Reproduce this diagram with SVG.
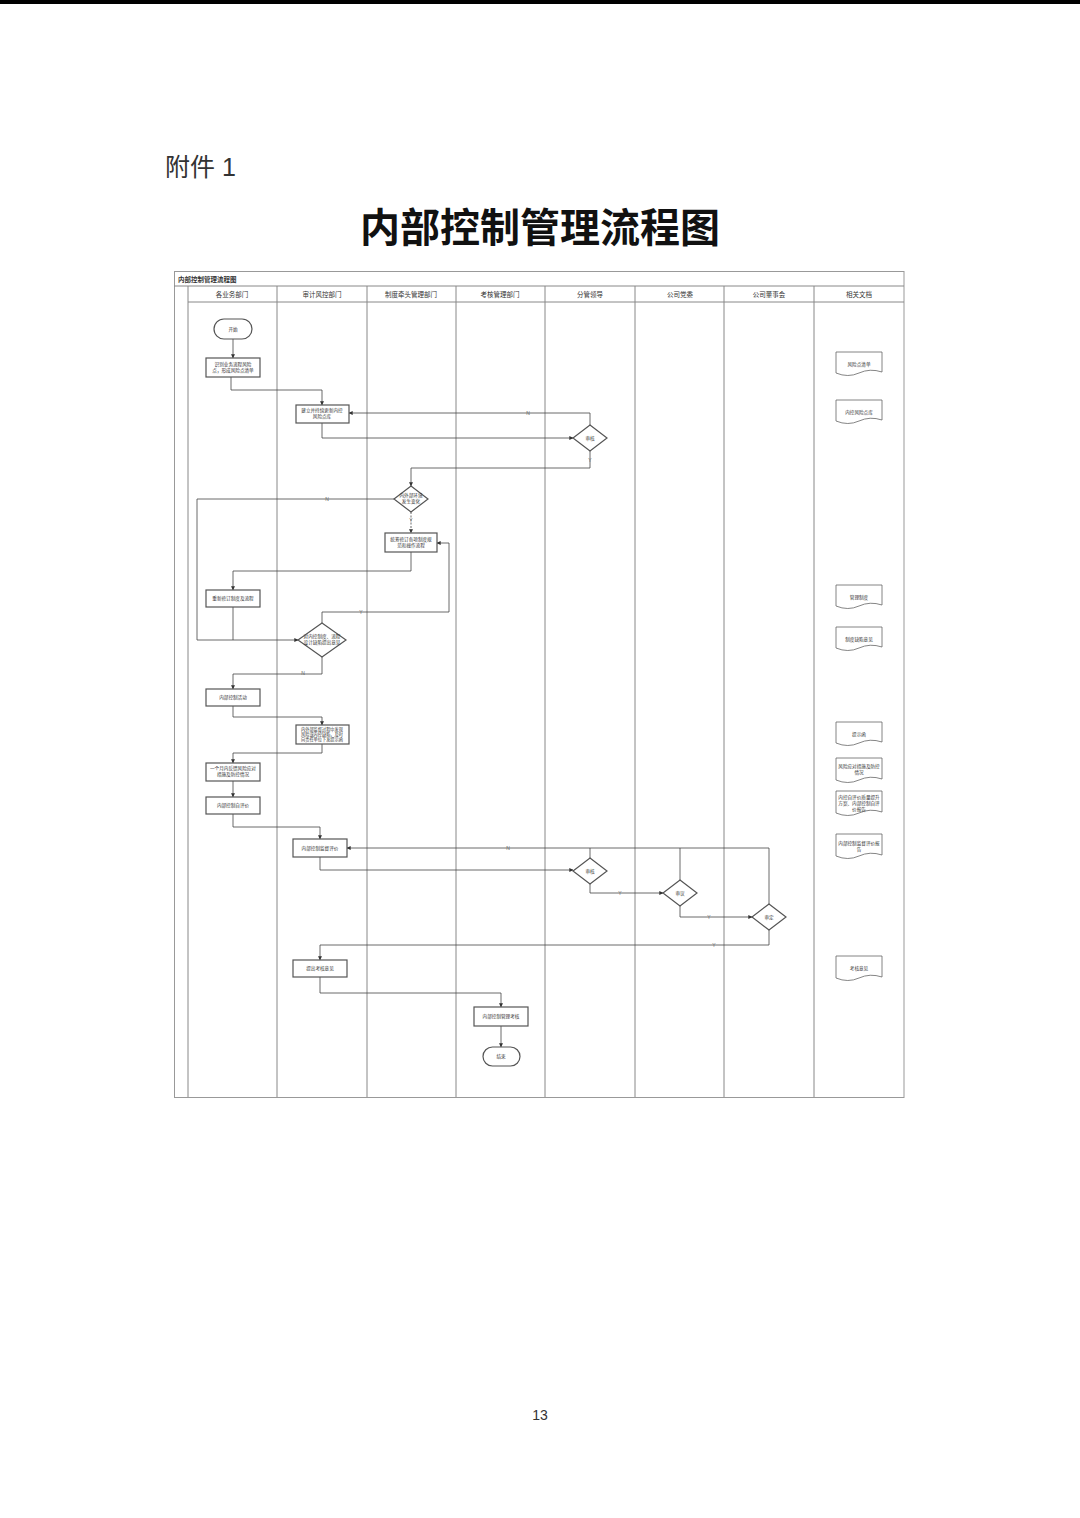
<svg xmlns="http://www.w3.org/2000/svg" width="1080" height="1518" viewBox="0 0 1080 1518">
<style>
.t{font-family:"Liberation Sans","Noto Sans CJK SC",sans-serif;fill:#333}
.n{fill:#fff;stroke:#555;stroke-width:1.2}
.d{fill:#fff;stroke:#666;stroke-width:0.8}
.s{font-size:4.6px}
.lane{stroke:#888;stroke-width:1;fill:none}
.c{fill:none;stroke:#444;stroke-width:0.8}
.lb{font-size:5px;fill:#666}
</style>
<defs>
<marker id="a" viewBox="0 0 6 6" refX="5.5" refY="3" markerWidth="5" markerHeight="5" orient="auto"><path d="M0,0L6,3L0,6z" fill="#333"/></marker>
</defs>
<rect x="0" y="0" width="1080" height="4" fill="#000"/>
<text class="t" x="165" y="176" font-size="25" fill="#111">附件 1</text>
<text x="540" y="242" font-size="40" font-weight="bold" text-anchor="middle" font-family="'Noto Sans CJK SC',serif" fill="#111">内部控制管理流程图</text>
<text class="t" x="540" y="1420" font-size="14" text-anchor="middle">13</text>
<g id="frame">
<rect x="174.5" y="271.5" width="729.5" height="826" fill="#fff" stroke="#999"/>
<line class="lane" x1="174" y1="286" x2="904" y2="286"/>
<line class="lane" x1="188" y1="302" x2="904" y2="302"/>
<text class="t" x="178" y="282" font-size="6.5" font-weight="bold">内部控制管理流程图</text>
<g class="lane">
<line x1="188" y1="286" x2="188" y2="1097"/><line x1="277" y1="286" x2="277" y2="1097"/><line x1="367" y1="286" x2="367" y2="1097"/><line x1="456" y1="286" x2="456" y2="1097"/><line x1="545" y1="286" x2="545" y2="1097"/><line x1="635" y1="286" x2="635" y2="1097"/><line x1="724" y1="286" x2="724" y2="1097"/><line x1="814" y1="286" x2="814" y2="1097"/>
</g>
<g class="t" font-size="6.5" text-anchor="middle">
<text x="232" y="297">各业务部门</text><text x="322" y="297">审计风控部门</text><text x="411" y="297">制度牵头管理部门</text><text x="500" y="297">考核管理部门</text><text x="590" y="297">分管领导</text><text x="680" y="297">公司党委</text><text x="769" y="297">公司董事会</text><text x="859" y="297">相关文档</text>
</g>
</g>
<g id="connectors">
<path class="c" d="M233,339V358" marker-end="url(#a)"/>
<path class="c" d="M231,377V390H322V405" marker-end="url(#a)"/>
<path class="c" d="M322,423V438H573" marker-end="url(#a)"/>
<path class="c" d="M590,425V413H349" marker-end="url(#a)"/>
<path class="c" d="M590,451V468H411V486" marker-end="url(#a)"/>
<path class="c" d="M394,499H197V640H298" marker-end="url(#a)"/>
<path class="c" d="M411,512V533" stroke-dasharray="2,1.5" marker-end="url(#a)"/>
<path class="c" d="M411,552V571H233V590" marker-end="url(#a)"/>
<path class="c" d="M233,607V640"/>
<path class="c" d="M322,623V612H449V543H437" marker-end="url(#a)"/>
<path class="c" d="M322,657V674H233V689" marker-end="url(#a)"/>
<path class="c" d="M233,706V717H322V725" marker-end="url(#a)"/>
<path class="c" d="M322,744V753H233V763" marker-end="url(#a)"/>
<path class="c" d="M233,781V797" marker-end="url(#a)"/>
<path class="c" d="M233,814V827H320V839" marker-end="url(#a)"/>
<path class="c" d="M320,857V870H573" marker-end="url(#a)"/>
<path class="c" d="M590,858V848M680,880V848M769,904V848H347" marker-end="url(#a)"/>
<path class="c" d="M590,884V893H663" marker-end="url(#a)"/>
<path class="c" d="M680,906V917H752" marker-end="url(#a)"/>
<path class="c" d="M769,930V945H320V960" marker-end="url(#a)"/>
<path class="c" d="M320,977V993H501V1007" marker-end="url(#a)"/>
<path class="c" d="M501,1026V1047" marker-end="url(#a)"/>
<g class="t lb" text-anchor="middle">
<text x="528" y="415">N</text><text x="590" y="462">Y</text><text x="327" y="501">N</text><text x="411" y="522">Y</text><text x="361" y="614">Y</text><text x="303" y="675">N</text><text x="508" y="850">N</text><text x="620" y="895">Y</text><text x="709" y="919">Y</text><text x="714" y="947">Y</text>
</g>
</g>
<g class="t s" text-anchor="middle">
<g id="start"><rect class="n" x="214" y="319" width="38" height="20" rx="10"/><text x="233" y="331">开始</text></g>
<g id="n1"><rect class="n" x="206" y="358" width="54" height="19"/><text x="233" y="366">识别业务流程风险</text><text x="233" y="372">点，形成风险点清单</text></g>
<g id="n2"><rect class="n" x="296" y="405" width="53" height="18"/><text x="322" y="412">建立并持续更新内控</text><text x="322" y="418">风险点库</text></g>
<g id="d1"><path class="n" d="M590,425L607,438L590,451L573,438z"/><text x="590" y="440">审核</text></g>
<g id="d2"><path class="n" d="M411,486L428,499L411,512L394,499z"/><text x="411" y="497">内外部环境</text><text x="411" y="503">发生变化</text></g>
<g id="n3"><rect class="n" x="385" y="533" width="52" height="19"/><text x="411" y="541">统筹修订各项制度规</text><text x="411" y="547">范和操作流程</text></g>
<g id="n4"><rect class="n" x="206" y="590" width="54" height="17"/><text x="233" y="600">重新修订制度及流程</text></g>
<g id="d3"><path class="n" d="M322,623L346,640L322,657L298,640z"/><text x="322" y="638">对内控制度、流程</text><text x="322" y="644">设计缺陷提出意见</text></g>
<g id="n5"><rect class="n" x="206" y="689" width="54" height="17"/><text x="233" y="699">内部控制活动</text></g>
<g id="n6" font-size="4.2"><rect class="n" x="296" y="725" width="53" height="19"/><text x="322" y="731">内外部监督过程中发现</text><text x="322" y="736">风险或内控缺陷，及时</text><text x="322" y="741">向责任单位下发提示函</text></g>
<g id="n7"><rect class="n" x="206" y="763" width="54" height="18"/><text x="233" y="770">一个月内反馈风险应对</text><text x="233" y="776">措施及防控情况</text></g>
<g id="n8"><rect class="n" x="206" y="797" width="54" height="17"/><text x="233" y="807">内部控制自评价</text></g>
<g id="n9"><rect class="n" x="293" y="839" width="54" height="18"/><text x="320" y="850">内部控制监督评价</text></g>
<g id="d4"><path class="n" d="M590,858L607,871L590,884L573,871z"/><text x="590" y="873">审核</text></g>
<g id="d5"><path class="n" d="M680,880L697,893L680,906L663,893z"/><text x="680" y="895">审议</text></g>
<g id="d6"><path class="n" d="M769,904L786,917L769,930L752,917z"/><text x="769" y="919">审定</text></g>
<g id="n10"><rect class="n" x="293" y="960" width="54" height="17"/><text x="320" y="970">提出考核意见</text></g>
<g id="n11"><rect class="n" x="474" y="1007" width="54" height="19"/><text x="501" y="1018">内部控制管理考核</text></g>
<g id="end"><rect class="n" x="483" y="1047" width="37" height="19" rx="9.5"/><text x="501" y="1058">结束</text></g>
</g>
<g class="t s" text-anchor="middle">
<g id="doc1"><path class="d" d="M836,352H882V372Q870,368 859,373T836,373z"/><text x="859" y="366">风险点清单</text></g>
<g id="doc2"><path class="d" d="M836,400H882V420Q870,416 859,421T836,421z"/><text x="859" y="414">内控风险点库</text></g>
<g id="doc3"><path class="d" d="M836,585H882V605Q870,601 859,606T836,606z"/><text x="859" y="599">管理制度</text></g>
<g id="doc4"><path class="d" d="M836,627H882V647Q870,643 859,648T836,648z"/><text x="859" y="641">制度缺陷意见</text></g>
<g id="doc5"><path class="d" d="M836,722H882V742Q870,738 859,743T836,743z"/><text x="859" y="736">提示函</text></g>
<g id="doc6"><path class="d" d="M836,758H882V779Q870,775 859,780T836,780z"/><text x="859" y="768">风险应对措施及防控</text><text x="859" y="774">情况</text></g>
<g id="doc7"><path class="d" d="M836,791H882V812Q870,808 859,813T836,813z"/><text x="859" y="799">内控自评价质量提升</text><text x="859" y="805">方案、内部控制自评</text><text x="859" y="811">价报告</text></g>
<g id="doc8"><path class="d" d="M836,834H882V855Q870,851 859,856T836,856z"/><text x="859" y="845">内部控制监督评价报</text><text x="859" y="851">告</text></g>
<g id="doc9"><path class="d" d="M836,956H882V977Q870,973 859,978T836,978z"/><text x="859" y="970">考核意见</text></g>
</g>
</svg>
